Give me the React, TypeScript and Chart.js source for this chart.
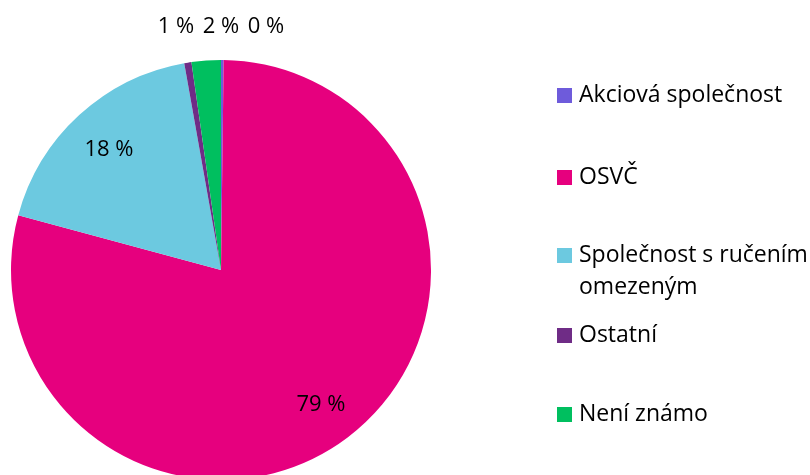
import React, { useEffect, useRef } from "react";
import { Chart, registerables } from "chart.js";

Chart.register(...registerables);

const categories = [
  "Akciová společnost",
  "OSVČ",
  "Společnost s ručením omezeným",
  "Ostatní",
  "Není známo",
];
const legendLines = [
  ["Akciová společnost"],
  ["OSVČ"],
  ["Společnost s ručením", "omezeným"],
  ["Ostatní"],
  ["Není známo"],
];
const values = [0.2, 79.0, 18.0, 0.55, 2.25];
const pctLabels = ["0 %", "79 %", "18 %", "1 %", "2 %"];
const colors = ["#6E5BDB", "#E6007E", "#6CC9E0", "#6F2C86", "#00BF5F"];

const FONT = "'Open Sans', sans-serif";

const labelPlugin = {
  id: "pctLabels",
  afterDatasetsDraw(chart: any) {
    const ctx = chart.ctx;
    const meta = chart.getDatasetMeta(0);
    ctx.save();
    ctx.font = `22px ${FONT}`;
    ctx.fillStyle = "#000";
    ctx.textAlign = "center";
    ctx.textBaseline = "middle";
    const small: { i: number; x: number }[] = [];
    let cx = 0, cy = 0, R = 0;
    meta.data.forEach((arc: any, i: number) => {
      const p = arc.getProps(["x", "y", "startAngle", "endAngle", "outerRadius"], true);
      cx = p.x; cy = p.y; R = p.outerRadius;
      const mid = (p.startAngle + p.endAngle) / 2;
      const frac = (p.endAngle - p.startAngle) / (Math.PI * 2);
      if (frac > 0.05) {
        const k = 0.79;
        ctx.fillText(pctLabels[i], p.x + Math.cos(mid) * R * k, p.y + Math.sin(mid) * R * k + 2);
      } else {
        small.push({ i, x: p.x + Math.cos(mid) * R * 1.15 });
      }
    });
    small.sort((a, b) => a.x - b.x);
    const gap = 45;
    const startX = cx - ((small.length - 1) * gap) / 2;
    small.forEach((s, j) => {
      ctx.fillText(pctLabels[s.i], startX + j * gap, cy - R - 33);
    });
    ctx.restore();
  },
};

const legendPlugin = {
  id: "sideLegend",
  afterDraw(chart: any) {
    const ctx = chart.ctx;
    ctx.save();
    ctx.font = `23px ${FONT}`;
    ctx.fillStyle = "#000";
    ctx.textBaseline = "middle";
    ctx.textAlign = "left";
    const ys = [95, 177, 255, 335, 414];
    legendLines.forEach((lines, i) => {
      const y = ys[i];
      ctx.fillStyle = colors[i];
      ctx.fillRect(557, y - 7, 15, 15);
      ctx.fillStyle = "#000";
      lines.forEach((t, j) => ctx.fillText(t, 579, y + j * 32));
    });
    ctx.restore();
  },
};

export default function App() {
  const ref = useRef<HTMLCanvasElement>(null);
  useEffect(() => {
    document.body.style.margin = "0";
    const chart = new Chart(ref.current!, {
      type: "pie",
      data: {
        labels: categories,
        datasets: [{ data: values, backgroundColor: colors, borderWidth: 0 }],
      },
      options: {
        animation: false,
        responsive: false,
        layout: { padding: { left: 11, right: 379, top: 60, bottom: 10 } },
        plugins: { legend: { display: false }, tooltip: { enabled: false } },
      },
      plugins: [labelPlugin, legendPlugin],
    });
    return () => chart.destroy();
  }, []);
  return (
    <div style={{ width: 810, height: 475, overflow: "hidden", background: "#fff" }}>
      <canvas ref={ref} width={810} height={490} style={{ display: "block" }} />
    </div>
  );
}
